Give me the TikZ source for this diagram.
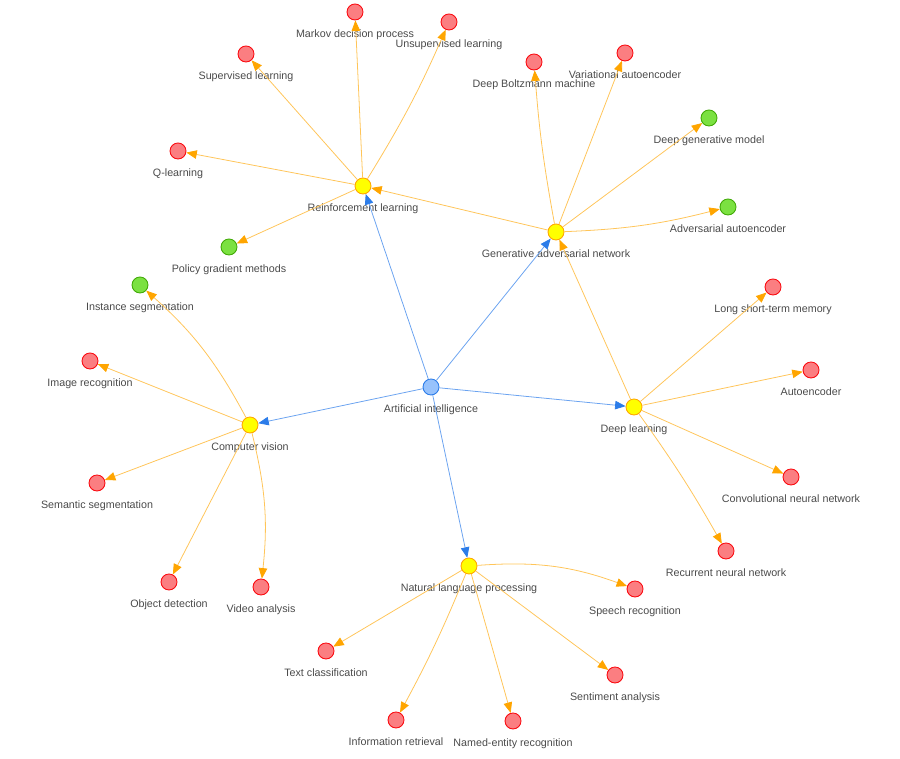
\documentclass[tikz,border=0pt]{standalone}
\usepackage{fontspec}
\setmainfont{Liberation Sans}
\usetikzlibrary{arrows.meta}
\definecolor{rootfill}{HTML}{97C2FC}
\definecolor{rootdraw}{HTML}{2B7CE9}
\definecolor{hubfill}{HTML}{FFFF00}
\definecolor{hubdraw}{HTML}{FFA500}
\definecolor{leaffill}{HTML}{FB7E81}
\definecolor{leafdraw}{HTML}{FA0A10}
\definecolor{greenfill}{HTML}{7BE141}
\definecolor{greendraw}{HTML}{41A906}
\definecolor{labelgray}{HTML}{4A4A4A}
\tikzset{
  topic/.style={
    circle,
    minimum size=0.32cm,
    inner sep=0pt,
    line width=0.5pt
  },
  root topic/.style={topic, fill=rootfill, draw=rootdraw},
  hub topic/.style={topic, fill=hubfill, draw=hubdraw},
  leaf topic/.style={topic, fill=leaffill, draw=leafdraw},
  green topic/.style={topic, fill=greenfill, draw=greendraw},
  every label/.style={
    font=\fontsize{6.1}{7}\selectfont,
    text=labelgray,
    inner sep=0.5pt
  },
  root link/.style={
    draw=rootdraw!70,
    line width=0.45pt,
    -{Triangle[length=2.1mm,width=1.7mm,color=rootdraw]}
  },
  hub link/.style={
    draw=hubdraw!65,
    line width=0.45pt,
    -{Triangle[length=2.1mm,width=1.7mm,color=hubdraw]}
  }
}

\begin{document}
\begin{tikzpicture}[x=0.02cm, y=-0.02cm, label distance=4.4pt]
  \useasboundingbox (0,0) rectangle (900,759);

  % ---------- 中心と分野 ----------
  \node[root topic, label=below:{Artificial intelligence}] (ai) at (431,387) {};
  \node[hub topic, label=below:{Reinforcement learning}] (rl) at (363,186) {};
  \node[hub topic, label=below:{Generative adversarial network}] (gan) at (556,232) {};
  \node[hub topic, label=below:{Computer vision}] (cv) at (250,425) {};
  \node[hub topic, label=below:{Deep learning}] (dl) at (634,407) {};
  \node[hub topic, label=below:{Natural language processing}] (nlp) at (469,566) {};

  % ---------- 強化学習 ----------
  \node[leaf topic, label=below:{Markov decision process}] (mdp) at (355,12) {};
  \node[leaf topic, label=below:{Unsupervised learning}] (unsup) at (449,22) {};
  \node[leaf topic, label=below:{Supervised learning}] (sup) at (246,54) {};
  \node[leaf topic, label=below:{Q-learning}] (qlearn) at (178,151) {};
  \node[green topic, label=below:{Policy gradient methods}] (policy) at (229,247) {};

  % ---------- GAN ----------
  \node[leaf topic, label=below:{Deep Boltzmann machine}] (dbm) at (534,62) {};
  \node[leaf topic, label=below:{Variational autoencoder}] (vae) at (625,53) {};
  \node[green topic, label=below:{Deep generative model}] (dgm) at (709,118) {};
  \node[green topic, label=below:{Adversarial autoencoder}] (aae) at (728,207) {};

  % ---------- 画像認識 ----------
  \node[green topic, label=below:{Instance segmentation}] (inst) at (140,285) {};
  \node[leaf topic, label=below:{Image recognition}] (imgrec) at (90,361) {};
  \node[leaf topic, label=below:{Semantic segmentation}] (semseg) at (97,483) {};
  \node[leaf topic, label=below:{Object detection}] (objdet) at (169,582) {};
  \node[leaf topic, label=below:{Video analysis}] (video) at (261,587) {};

  % ---------- 深層学習 ----------
  \node[leaf topic, label=below:{Long short-term memory}] (lstm) at (773,287) {};
  \node[leaf topic, label=below:{Autoencoder}] (autoenc) at (811,370) {};
  \node[leaf topic, label=below:{Convolutional neural network}] (cnn) at (791,477) {};
  \node[leaf topic, label=below:{Recurrent neural network}] (rnn) at (726,551) {};

  % ---------- 自然言語処理 ----------
  \node[leaf topic, label=below:{Speech recognition}] (speech) at (635,589) {};
  \node[leaf topic, label=below:{Sentiment analysis}] (sentiment) at (615,675) {};
  \node[leaf topic, label=below:{Text classification}] (textcls) at (326,651) {};
  \node[leaf topic, label=below:{Information retrieval}] (inforet) at (396,720) {};
  \node[leaf topic, label=below:{Named-entity recognition}] (ner) at (513,721) {};

  % 中心から各分野へ
  \draw[root link] (ai) -- (rl);
  \draw[root link] (ai) -- (gan);
  \draw[root link] (ai) -- (cv);
  \draw[root link] (ai) -- (dl);
  \draw[root link] (ai) -- (nlp);

  % 分野間
  \draw[hub link] (gan) -- (rl);
  \draw[hub link] (dl) -- (gan);

  % 各分野から下位項目へ
  \draw[hub link] (rl) -- (mdp);
  \draw[hub link] (rl) to[bend right=4] (unsup);
  \draw[hub link] (rl) -- (sup);
  \draw[hub link] (rl) -- (qlearn);
  \draw[hub link] (rl) -- (policy);

  \draw[hub link] (gan) to[bend left=3] (dbm);
  \draw[hub link] (gan) -- (vae);
  \draw[hub link] (gan) -- (dgm);
  \draw[hub link] (gan) to[bend right=6] (aae);

  \draw[hub link] (cv) to[bend right=10] (inst);
  \draw[hub link] (cv) -- (imgrec);
  \draw[hub link] (cv) -- (semseg);
  \draw[hub link] (cv) -- (objdet);
  \draw[hub link] (cv) to[bend left=10] (video);

  \draw[hub link] (dl) -- (lstm);
  \draw[hub link] (dl) -- (autoenc);
  \draw[hub link] (dl) -- (cnn);
  \draw[hub link] (dl) to[bend left=3] (rnn);

  \draw[hub link] (nlp) to[bend left=12] (speech);
  \draw[hub link] (nlp) -- (sentiment);
  \draw[hub link] (nlp) -- (textcls);
  \draw[hub link] (nlp) to[bend left=3] (inforet);
  \draw[hub link] (nlp) -- (ner);

\end{tikzpicture}
\end{document}
